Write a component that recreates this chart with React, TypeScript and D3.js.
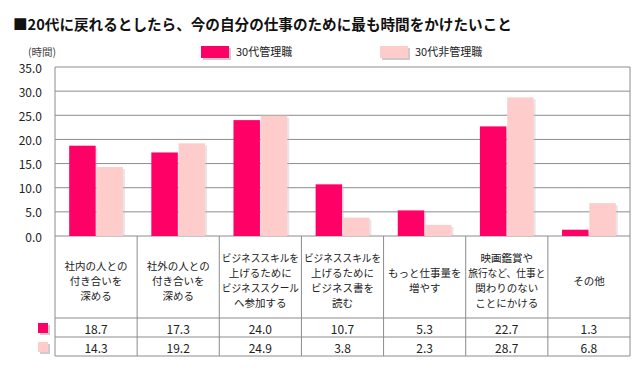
import { useEffect, useRef } from 'react';
import * as d3 from 'd3';

const categories = [
  ['社内の人との', '付き合いを', '深める'],
  ['社外の人との', '付き合いを', '深める'],
  ['ビジネススキルを', '上げるために', 'ビジネススクール', 'へ参加する'],
  ['ビジネススキルを', '上げるために', 'ビジネス書を', '読む'],
  ['もっと仕事量を', '増やす'],
  ['映画鑑賞や', '旅行など、仕事と', '関わりのない', 'ことにかける'],
  ['その他'],
];
const seriesNames = ['30代管理職', '30代非管理職'];
const managers = [18.7, 17.3, 24.0, 10.7, 5.3, 22.7, 1.3];
const nonManagers = [14.3, 19.2, 24.9, 3.8, 2.3, 28.7, 6.8];
const yTicks = [0, 5, 10, 15, 20, 25, 30, 35];
const colors = ['#ff0066', '#ffcccc'];

const FONT = '"Noto Sans CJK JP", "Noto Sans", sans-serif';

const App = () => {
  const svgRef = useRef<SVGSVGElement>(null);

  useEffect(() => {
    if (!svgRef.current) return;
    const svg = d3.select(svgRef.current);
    svg.selectAll('*').remove();

    const left = 55;
    const right = 630;
    const top = 67;
    const zeroY = 236;
    const labelBottom = 318;
    const row1Bottom = 337;
    const row2Bottom = 356;

    const values = [managers, nonManagers];
    const idx = categories.map((_, i) => i);

    const x = d3.scaleBand<number>().domain(idx).range([left, right]);
    const xSub = d3.scaleBand<number>()
      .domain([0, 1])
      .range([0, x.bandwidth()])
      .paddingInner(0.03)
      .paddingOuter(0.52);
    const y = d3.scaleLinear().domain([0, 35]).range([zeroY, top]);

    // タイトル
    svg.append('text')
      .attr('x', 13)
      .attr('y', 30)
      .attr('font-family', FONT)
      .attr('font-size', 14.6)
      .attr('font-weight', 'bold')
      .attr('fill', '#111')
      .text('■20代に戻れるとしたら、今の自分の仕事のために最も時間をかけたいこと');

    // 単位
    svg.append('text')
      .attr('x', 28)
      .attr('y', 56)
      .attr('font-family', FONT)
      .attr('font-size', 10.5)
      .attr('fill', '#444')
      .text('(時間)');

    // 凡例
    const legendX = [201, 380];
    seriesNames.forEach((name, i) => {
      svg.append('rect')
        .attr('x', legendX[i] + 2)
        .attr('y', 48)
        .attr('width', 28)
        .attr('height', 12)
        .attr('fill', '#999')
        .attr('opacity', 0.5);
      svg.append('rect')
        .attr('x', legendX[i])
        .attr('y', 46)
        .attr('width', 28)
        .attr('height', 12)
        .attr('fill', colors[i]);
      svg.append('text')
        .attr('x', legendX[i] + 35)
        .attr('y', 56)
        .attr('font-family', FONT)
        .attr('font-size', 11)
        .attr('fill', '#222')
        .text(name);
    });

    // グリッド線
    yTicks.forEach(t => {
      svg.append('line')
        .attr('x1', left)
        .attr('x2', right)
        .attr('y1', y(t))
        .attr('y2', y(t))
        .attr('stroke', '#8c8c8c')
        .attr('stroke-width', 1);
      svg.append('text')
        .attr('x', 42)
        .attr('y', y(t))
        .attr('text-anchor', 'end')
        .attr('dominant-baseline', 'central')
        .attr('font-family', FONT)
        .attr('font-size', 12)
        .attr('fill', '#222')
        .text(t.toFixed(1));
    });

    // 棒
    values.forEach((vals, s) => {
      vals.forEach((v, i) => {
        const bx = (x(i) ?? 0) + (xSub(s) ?? 0);
        const bw = xSub.bandwidth();
        svg.append('rect')
          .attr('x', bx + 2)
          .attr('y', y(v) + 2)
          .attr('width', bw)
          .attr('height', zeroY - y(v) - 2)
          .attr('fill', '#bbb')
          .attr('opacity', 0.35);
        svg.append('rect')
          .attr('x', bx)
          .attr('y', y(v))
          .attr('width', bw)
          .attr('height', zeroY - y(v))
          .attr('fill', colors[s]);
      });
    });

    // 外枠
    svg.append('line')
      .attr('x1', left).attr('x2', left)
      .attr('y1', top).attr('y2', row2Bottom)
      .attr('stroke', '#8c8c8c');
    svg.append('line')
      .attr('x1', right).attr('x2', right)
      .attr('y1', top).attr('y2', row2Bottom)
      .attr('stroke', '#8c8c8c');

    // 表
    idx.slice(1).forEach(i => {
      svg.append('line')
        .attr('x1', x(i) ?? 0).attr('x2', x(i) ?? 0)
        .attr('y1', zeroY).attr('y2', row2Bottom)
        .attr('stroke', '#8c8c8c');
    });
    [labelBottom, row1Bottom, row2Bottom].forEach(ly => {
      svg.append('line')
        .attr('x1', left).attr('x2', right)
        .attr('y1', ly).attr('y2', ly)
        .attr('stroke', '#8c8c8c');
    });

    const lineH = 15;
    const labelMid = 280;
    const maxW = x.bandwidth() - 5;
    categories.forEach((lines, i) => {
      const cx = (x(i) ?? 0) + x.bandwidth() / 2;
      lines.forEach((ln, k) => {
        const t = svg.append('text')
          .attr('x', cx)
          .attr('y', labelMid + (k - (lines.length - 1) / 2) * lineH)
          .attr('text-anchor', 'middle')
          .attr('dominant-baseline', 'central')
          .attr('font-family', FONT)
          .attr('font-size', 10.5)
          .attr('fill', '#222')
          .text(ln);
        const node = t.node() as SVGTextElement;
        if (node.getComputedTextLength() > maxW) {
          t.attr('textLength', maxW).attr('lengthAdjust', 'spacingAndGlyphs');
        }
      });
      values.forEach((vals, s) => {
        const rowTop = s === 0 ? labelBottom : row1Bottom;
        const rowBottom = s === 0 ? row1Bottom : row2Bottom;
        svg.append('text')
          .attr('x', cx)
          .attr('y', (rowTop + rowBottom) / 2 + 1)
          .attr('text-anchor', 'middle')
          .attr('dominant-baseline', 'central')
          .attr('font-family', FONT)
          .attr('font-size', 12)
          .attr('fill', '#222')
          .text(vals[i].toFixed(1));
      });
    });

    // 表の凡例マーカー
    values.forEach((_, s) => {
      const rowTop = s === 0 ? labelBottom : row1Bottom;
      svg.append('rect')
        .attr('x', 40)
        .attr('y', rowTop + 7)
        .attr('width', 10)
        .attr('height', 10)
        .attr('fill', '#999')
        .attr('opacity', 0.5);
      svg.append('rect')
        .attr('x', 38)
        .attr('y', rowTop + 5)
        .attr('width', 10)
        .attr('height', 10)
        .attr('fill', colors[s]);
    });
  }, []);

  return (
    <svg
      ref={svgRef}
      width="640"
      height="370"
      style={{ position: 'absolute', left: 0, top: 0, background: '#fff' }}
    />
  );
};

export default App;
